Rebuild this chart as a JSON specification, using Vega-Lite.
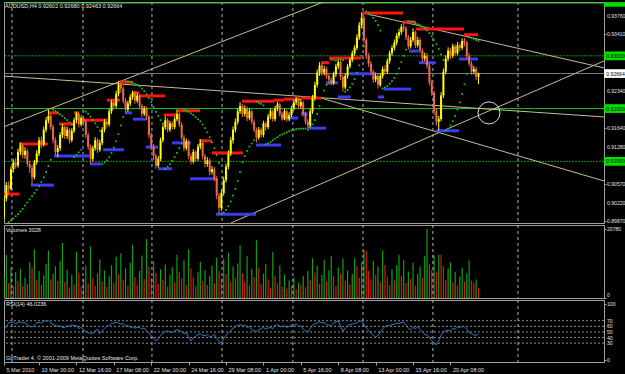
{
"$schema": "https://vega.github.io/schema/vega-lite/v6.json",
"background": "#000000",
"padding": {"left": 3, "top": 1, "right": 30, "bottom": 14},
"spacing": 2,
"bounds": "flush",
"datasets": {
"bars": [
{"t":0,"o":0.8995,"h":0.9036,"l":0.899,"c":0.903,"v":6000,"r":54},
{"t":1,"o":0.903,"h":0.9061,"l":0.9024,"c":0.9055,"v":13000,"r":60},
{"t":2,"o":0.9055,"h":0.9062,"l":0.904,"c":0.9048,"v":4500,"s":0.8985,"r":66},
{"t":3,"o":0.9048,"h":0.909,"l":0.9045,"c":0.9085,"v":9000,"s":0.8988,"r":67},
{"t":4,"o":0.9085,"h":0.9104,"l":0.9079,"c":0.9098,"v":3500,"s":0.8992,"r":68},
{"t":5,"o":0.9098,"h":0.9106,"l":0.9086,"c":0.9092,"v":7800,"s":0.8996,"r":64},
{"t":6,"o":0.9092,"h":0.9124,"l":0.9088,"c":0.9118,"v":5200,"s":0.9,"r":67},
{"t":7,"o":0.9118,"h":0.9136,"l":0.9112,"c":0.913,"v":8800,"s":0.9005,"r":68},
{"t":8,"o":0.913,"h":0.9134,"l":0.9106,"c":0.9112,"v":3600,"s":0.901,"r":66},
{"t":9,"o":0.9112,"h":0.9127,"l":0.9105,"c":0.912,"v":6100,"s":0.9016,"r":67},
{"t":10,"o":0.912,"h":0.9124,"l":0.909,"c":0.9095,"v":4200,"s":0.9022,"r":62},
{"t":11,"o":0.9095,"h":0.9101,"l":0.9078,"c":0.9088,"v":10800,"s":0.9028,"r":60},
{"t":12,"o":0.9088,"h":0.9093,"l":0.9056,"c":0.907,"v":9200,"s":0.9034,"r":59},
{"t":13,"o":0.907,"h":0.9103,"l":0.9066,"c":0.9098,"v":14600,"s":0.904,"r":62},
{"t":14,"o":0.9098,"h":0.9121,"l":0.9094,"c":0.9115,"v":5300,"s":0.9046,"r":66},
{"t":15,"o":0.9115,"h":0.9146,"l":0.911,"c":0.914,"v":8100,"s":0.9053,"r":67},
{"t":16,"o":0.914,"h":0.9147,"l":0.9125,"c":0.9132,"v":3900,"s":0.9061,"r":66},
{"t":17,"o":0.9132,"h":0.9166,"l":0.9128,"c":0.916,"v":6800,"s":0.907,"r":69},
{"t":18,"o":0.916,"h":0.9184,"l":0.9155,"c":0.9178,"v":10300,"s":0.908,"r":70},
{"t":19,"o":0.9178,"h":0.9198,"l":0.9172,"c":0.9186,"v":14300,"s":0.9091,"r":70},
{"t":20,"o":0.9186,"h":0.919,"l":0.916,"c":0.9165,"v":5600,"s":0.9103,"r":66},
{"t":21,"o":0.9165,"h":0.917,"l":0.9134,"c":0.914,"v":7300,"s":0.9198,"r":63},
{"t":22,"o":0.914,"h":0.9145,"l":0.9112,"c":0.9118,"v":9600,"s":0.9195,"r":62},
{"t":23,"o":0.9118,"h":0.9131,"l":0.9108,"c":0.9125,"v":5100,"s":0.9192,"r":60},
{"t":24,"o":0.9125,"h":0.9155,"l":0.912,"c":0.915,"v":11200,"s":0.9189,"r":61},
{"t":25,"o":0.915,"h":0.9171,"l":0.9144,"c":0.9165,"v":16600,"s":0.9186,"r":58},
{"t":26,"o":0.9165,"h":0.9168,"l":0.9142,"c":0.9148,"v":4800,"s":0.9182,"r":58},
{"t":27,"o":0.9148,"h":0.9166,"l":0.9143,"c":0.916,"v":8600,"s":0.9178,"r":61},
{"t":28,"o":0.916,"h":0.9163,"l":0.9134,"c":0.914,"v":3200,"s":0.9174,"r":60},
{"t":29,"o":0.914,"h":0.9163,"l":0.9136,"c":0.9158,"v":6900,"s":0.917,"r":63},
{"t":30,"o":0.9158,"h":0.9183,"l":0.9154,"c":0.9178,"v":4100,"s":0.9108,"r":61},
{"t":31,"o":0.9178,"h":0.9194,"l":0.9172,"c":0.919,"v":14000,"s":0.9112,"r":62},
{"t":32,"o":0.919,"h":0.9193,"l":0.9164,"c":0.917,"v":7700,"s":0.9117,"r":56},
{"t":33,"o":0.917,"h":0.9187,"l":0.9166,"c":0.9182,"v":3500,"s":0.9122,"r":58},
{"t":34,"o":0.9182,"h":0.9186,"l":0.9168,"c":0.9175,"v":5900,"s":0.9196,"r":55},
{"t":35,"o":0.9175,"h":0.9179,"l":0.9144,"c":0.915,"v":9800,"s":0.9194,"r":50},
{"t":36,"o":0.915,"h":0.9155,"l":0.9122,"c":0.9128,"v":4400,"s":0.919,"r":49},
{"t":37,"o":0.9128,"h":0.9132,"l":0.9095,"c":0.9105,"v":15500,"s":0.9185,"r":47},
{"t":38,"o":0.9105,"h":0.913,"l":0.91,"c":0.9125,"v":6200,"s":0.9179,"r":48},
{"t":39,"o":0.9125,"h":0.9146,"l":0.912,"c":0.914,"v":3800,"s":0.9172,"r":52},
{"t":40,"o":0.914,"h":0.9144,"l":0.9116,"c":0.9122,"v":7400,"s":0.9165,"r":55},
{"t":41,"o":0.9122,"h":0.9141,"l":0.9118,"c":0.9135,"v":11600,"s":0.9158,"r":47},
{"t":42,"o":0.9135,"h":0.9165,"l":0.9131,"c":0.916,"v":5000,"s":0.9095,"r":52},
{"t":43,"o":0.916,"h":0.918,"l":0.9155,"c":0.9175,"v":8300,"s":0.9098,"r":56},
{"t":44,"o":0.9175,"h":0.9181,"l":0.9164,"c":0.917,"v":3300,"s":0.9102,"r":60},
{"t":45,"o":0.917,"h":0.92,"l":0.9166,"c":0.9195,"v":6700,"s":0.9108,"r":62},
{"t":46,"o":0.9195,"h":0.9217,"l":0.919,"c":0.9212,"v":9900,"s":0.9116,"r":65},
{"t":47,"o":0.9212,"h":0.9218,"l":0.9199,"c":0.9205,"v":4600,"s":0.9126,"r":66},
{"t":48,"o":0.9205,"h":0.9234,"l":0.9201,"c":0.9228,"v":12400,"s":0.9138,"r":67},
{"t":49,"o":0.9228,"h":0.9252,"l":0.9223,"c":0.9245,"v":7100,"s":0.9152,"r":66},
{"t":50,"o":0.9245,"h":0.925,"l":0.923,"c":0.9238,"v":13500,"s":0.9168,"r":64},
{"t":51,"o":0.9238,"h":0.9242,"l":0.921,"c":0.9215,"v":5400,"s":0.9184,"r":65},
{"t":52,"o":0.9215,"h":0.922,"l":0.9192,"c":0.9198,"v":8900,"s":0.9252,"r":60},
{"t":53,"o":0.9198,"h":0.9215,"l":0.9194,"c":0.921,"v":3700,"s":0.9251,"r":62},
{"t":54,"o":0.921,"h":0.9227,"l":0.9205,"c":0.9222,"v":10600,"s":0.925,"r":58},
{"t":55,"o":0.9222,"h":0.9234,"l":0.9217,"c":0.923,"v":16000,"s":0.9249,"r":59},
{"t":56,"o":0.923,"h":0.9233,"l":0.9209,"c":0.9215,"v":6300,"s":0.9247,"r":57},
{"t":57,"o":0.9215,"h":0.923,"l":0.9211,"c":0.9225,"v":4000,"s":0.9245,"r":58},
{"t":58,"o":0.9225,"h":0.9228,"l":0.9199,"c":0.9205,"v":8200,"s":0.9242,"r":58},
{"t":59,"o":0.9205,"h":0.9209,"l":0.9184,"c":0.919,"v":12800,"s":0.9238,"r":55},
{"t":60,"o":0.919,"h":0.9205,"l":0.9186,"c":0.92,"v":5700,"s":0.9233,"r":57},
{"t":61,"o":0.92,"h":0.9204,"l":0.9178,"c":0.9185,"v":17800,"s":0.9227,"r":52},
{"t":62,"o":0.9185,"h":0.9188,"l":0.9144,"c":0.915,"v":9400,"s":0.922,"r":48},
{"t":63,"o":0.915,"h":0.9155,"l":0.9121,"c":0.9128,"v":6000,"s":0.9212,"r":43},
{"t":64,"o":0.9128,"h":0.9133,"l":0.9103,"c":0.911,"v":11000,"s":0.9203,"r":39},
{"t":65,"o":0.911,"h":0.9114,"l":0.9086,"c":0.9092,"v":7600,"s":0.9194,"r":34},
{"t":66,"o":0.9092,"h":0.911,"l":0.9088,"c":0.9105,"v":4300,"s":0.9186,"r":38},
{"t":67,"o":0.9105,"h":0.9145,"l":0.91,"c":0.914,"v":8700,"s":0.9178,"r":44},
{"t":68,"o":0.914,"h":0.917,"l":0.9136,"c":0.9165,"v":5500,"s":0.9172,"r":48},
{"t":69,"o":0.9165,"h":0.9185,"l":0.916,"c":0.9178,"v":10100,"s":0.9086,"r":51},
{"t":70,"o":0.9178,"h":0.9182,"l":0.9155,"c":0.916,"v":3400,"s":0.909,"r":52},
{"t":71,"o":0.916,"h":0.9177,"l":0.9156,"c":0.9172,"v":7000,"s":0.9095,"r":50},
{"t":72,"o":0.9172,"h":0.9176,"l":0.916,"c":0.9165,"v":9300,"s":0.9101,"r":49},
{"t":73,"o":0.9165,"h":0.9185,"l":0.9161,"c":0.918,"v":4700,"s":0.9108,"r":52},
{"t":74,"o":0.918,"h":0.9198,"l":0.9176,"c":0.919,"v":13000,"s":0.9116,"r":54},
{"t":75,"o":0.919,"h":0.9193,"l":0.9165,"c":0.917,"v":8000,"s":0.9125,"r":53},
{"t":76,"o":0.917,"h":0.9174,"l":0.914,"c":0.9145,"v":5800,"s":0.9134,"r":50},
{"t":77,"o":0.9145,"h":0.915,"l":0.9119,"c":0.9125,"v":11400,"s":0.9198,"r":47},
{"t":78,"o":0.9125,"h":0.9143,"l":0.9121,"c":0.9138,"v":4100,"s":0.9196,"r":49},
{"t":79,"o":0.9138,"h":0.9141,"l":0.9104,"c":0.911,"v":14600,"s":0.9194,"r":40},
{"t":80,"o":0.911,"h":0.9115,"l":0.9094,"c":0.91,"v":9000,"s":0.9191,"r":34},
{"t":81,"o":0.91,"h":0.9123,"l":0.9096,"c":0.9118,"v":6400,"s":0.9188,"r":40},
{"t":82,"o":0.9118,"h":0.9121,"l":0.9099,"c":0.9105,"v":3600,"s":0.9184,"r":42},
{"t":83,"o":0.9105,"h":0.9133,"l":0.9101,"c":0.9128,"v":7900,"s":0.918,"r":45},
{"t":84,"o":0.9128,"h":0.9142,"l":0.9123,"c":0.9135,"v":10900,"s":0.9176,"r":47},
{"t":85,"o":0.9135,"h":0.9138,"l":0.9104,"c":0.911,"v":5200,"s":0.917,"r":44},
{"t":86,"o":0.911,"h":0.9114,"l":0.9089,"c":0.9095,"v":8400,"s":0.9163,"r":43},
{"t":87,"o":0.9095,"h":0.9108,"l":0.909,"c":0.9102,"v":3900,"s":0.9155,"r":45},
{"t":88,"o":0.9102,"h":0.9106,"l":0.9074,"c":0.908,"v":6600,"s":0.9146,"r":41},
{"t":89,"o":0.908,"h":0.9091,"l":0.9075,"c":0.9085,"v":9700,"s":0.9136,"r":42},
{"t":90,"o":0.9085,"h":0.9089,"l":0.9062,"c":0.9068,"v":4500,"s":0.9125,"r":46},
{"t":91,"o":0.9068,"h":0.9072,"l":0.9028,"c":0.9035,"v":12100,"s":0.9112,"r":38},
{"t":92,"o":0.9035,"h":0.904,"l":0.9,"c":0.9012,"v":8100,"s":0.9097,"r":33},
{"t":93,"o":0.9012,"h":0.9046,"l":0.9006,"c":0.904,"v":5900,"s":0.9,"r":30},
{"t":94,"o":0.904,"h":0.9071,"l":0.9035,"c":0.9065,"v":11800,"s":0.9003,"r":38},
{"t":95,"o":0.9065,"h":0.9096,"l":0.906,"c":0.909,"v":7200,"s":0.9008,"r":44},
{"t":96,"o":0.909,"h":0.9121,"l":0.9085,"c":0.9115,"v":13600,"s":0.9015,"r":48},
{"t":97,"o":0.9115,"h":0.9146,"l":0.911,"c":0.914,"v":4900,"s":0.9024,"r":52},
{"t":98,"o":0.914,"h":0.9166,"l":0.9134,"c":0.916,"v":9500,"s":0.9035,"r":57},
{"t":99,"o":0.916,"h":0.9181,"l":0.9155,"c":0.9175,"v":6100,"s":0.9048,"r":59},
{"t":100,"o":0.9175,"h":0.9201,"l":0.917,"c":0.9195,"v":10400,"s":0.9063,"r":62},
{"t":101,"o":0.9195,"h":0.9212,"l":0.919,"c":0.9205,"v":15800,"s":0.908,"r":63},
{"t":102,"o":0.9205,"h":0.9209,"l":0.9184,"c":0.919,"v":7500,"s":0.9098,"r":61},
{"t":103,"o":0.919,"h":0.9206,"l":0.9185,"c":0.92,"v":5000,"s":0.911,"r":63},
{"t":104,"o":0.92,"h":0.9204,"l":0.9176,"c":0.9182,"v":12600,"s":0.912,"r":58},
{"t":105,"o":0.9182,"h":0.92,"l":0.9178,"c":0.9195,"v":3800,"s":0.9128,"r":60},
{"t":106,"o":0.9195,"h":0.9198,"l":0.917,"c":0.9175,"v":8800,"s":0.9134,"r":54},
{"t":107,"o":0.9175,"h":0.9179,"l":0.9155,"c":0.916,"v":6300,"s":0.914,"r":52},
{"t":108,"o":0.916,"h":0.9164,"l":0.9136,"c":0.9145,"v":17400,"s":0.9213,"r":51},
{"t":109,"o":0.9145,"h":0.9165,"l":0.9141,"c":0.916,"v":9100,"s":0.9211,"r":54},
{"t":110,"o":0.916,"h":0.9164,"l":0.9145,"c":0.915,"v":4200,"s":0.9209,"r":56},
{"t":111,"o":0.915,"h":0.9177,"l":0.9146,"c":0.9172,"v":7300,"s":0.9206,"r":58},
{"t":112,"o":0.9172,"h":0.9176,"l":0.9159,"c":0.9165,"v":10200,"s":0.9132,"r":55},
{"t":113,"o":0.9165,"h":0.919,"l":0.9161,"c":0.9185,"v":5600,"s":0.9134,"r":57},
{"t":114,"o":0.9185,"h":0.92,"l":0.918,"c":0.9195,"v":3100,"s":0.9137,"r":58},
{"t":115,"o":0.9195,"h":0.9198,"l":0.9175,"c":0.918,"v":13900,"s":0.914,"r":56},
{"t":116,"o":0.918,"h":0.9205,"l":0.9176,"c":0.92,"v":6800,"s":0.9143,"r":62},
{"t":117,"o":0.92,"h":0.9213,"l":0.9195,"c":0.9208,"v":4400,"s":0.9146,"r":63},
{"t":118,"o":0.9208,"h":0.9211,"l":0.9185,"c":0.919,"v":9900,"s":0.9149,"r":60},
{"t":119,"o":0.919,"h":0.9194,"l":0.9177,"c":0.9182,"v":3500,"s":0.9151,"r":59},
{"t":120,"o":0.9182,"h":0.92,"l":0.9178,"c":0.9195,"v":7100,"s":0.9153,"r":61},
{"t":121,"o":0.9195,"h":0.9198,"l":0.9175,"c":0.918,"v":2800,"s":0.9155,"r":58},
{"t":122,"o":0.918,"h":0.9193,"l":0.9176,"c":0.9188,"v":5300,"s":0.9157,"r":60},
{"t":123,"o":0.9188,"h":0.9205,"l":0.9184,"c":0.92,"v":3700,"s":0.9159,"r":62},
{"t":124,"o":0.92,"h":0.9217,"l":0.9196,"c":0.9212,"v":6200,"s":0.916,"r":63},
{"t":125,"o":0.9212,"h":0.9222,"l":0.9207,"c":0.9218,"v":2600,"s":0.9161,"r":64},
{"t":126,"o":0.9218,"h":0.9221,"l":0.9199,"c":0.9205,"v":4700,"s":0.9162,"r":60},
{"t":127,"o":0.9205,"h":0.9218,"l":0.92,"c":0.9212,"v":3900,"s":0.9162,"r":61},
{"t":128,"o":0.9212,"h":0.9215,"l":0.9185,"c":0.919,"v":6700,"s":0.9162,"r":55},
{"t":129,"o":0.919,"h":0.9194,"l":0.917,"c":0.9175,"v":3300,"s":0.9162,"r":52},
{"t":130,"o":0.9175,"h":0.918,"l":0.9163,"c":0.9168,"v":8100,"s":0.916,"r":50},
{"t":131,"o":0.9168,"h":0.92,"l":0.9165,"c":0.9195,"v":5500,"s":0.9165,"r":56},
{"t":132,"o":0.9195,"h":0.9226,"l":0.919,"c":0.922,"v":12000,"s":0.917,"r":62},
{"t":133,"o":0.922,"h":0.9251,"l":0.9215,"c":0.9245,"v":7600,"s":0.9178,"r":64},
{"t":134,"o":0.9245,"h":0.9274,"l":0.924,"c":0.9268,"v":9800,"s":0.919,"r":66},
{"t":135,"o":0.9268,"h":0.9288,"l":0.9262,"c":0.9282,"v":4300,"s":0.9205,"r":68},
{"t":136,"o":0.9282,"h":0.9286,"l":0.9262,"c":0.9268,"v":6900,"s":0.922,"r":66},
{"t":137,"o":0.9268,"h":0.9281,"l":0.9263,"c":0.9275,"v":11500,"s":0.9234,"r":67},
{"t":138,"o":0.9275,"h":0.9279,"l":0.9257,"c":0.9262,"v":5100,"s":0.9245,"r":63},
{"t":139,"o":0.9262,"h":0.9266,"l":0.925,"c":0.9255,"v":8400,"s":0.9248,"r":62},
{"t":140,"o":0.9255,"h":0.9259,"l":0.9244,"c":0.9248,"v":12600,"s":0.9293,"r":62},
{"t":141,"o":0.9248,"h":0.927,"l":0.9245,"c":0.9265,"v":6600,"s":0.9292,"r":66},
{"t":142,"o":0.9265,"h":0.9285,"l":0.926,"c":0.928,"v":3600,"s":0.9291,"r":68},
{"t":143,"o":0.928,"h":0.9292,"l":0.9275,"c":0.9288,"v":9200,"s":0.9294,"r":70},
{"t":144,"o":0.9288,"h":0.9291,"l":0.9254,"c":0.926,"v":7400,"s":0.9293,"r":60},
{"t":145,"o":0.926,"h":0.9264,"l":0.9232,"c":0.924,"v":11900,"s":0.9292,"r":51},
{"t":146,"o":0.924,"h":0.9267,"l":0.9236,"c":0.9262,"v":5200,"s":0.9232,"r":57},
{"t":147,"o":0.9262,"h":0.9285,"l":0.9257,"c":0.928,"v":8300,"s":0.9235,"r":61},
{"t":148,"o":0.928,"h":0.9297,"l":0.9276,"c":0.9292,"v":4100,"s":0.924,"r":63},
{"t":149,"o":0.9292,"h":0.931,"l":0.9288,"c":0.9305,"v":7200,"s":0.9247,"r":64},
{"t":150,"o":0.9305,"h":0.932,"l":0.93,"c":0.9315,"v":12000,"s":0.9256,"r":65},
{"t":151,"o":0.9315,"h":0.9341,"l":0.9311,"c":0.9335,"v":9600,"s":0.9268,"r":67},
{"t":152,"o":0.9335,"h":0.9364,"l":0.933,"c":0.9358,"v":6100,"s":0.9282,"r":69},
{"t":153,"o":0.9358,"h":0.9382,"l":0.9352,"c":0.9372,"v":10700,"s":0.93,"r":70},
{"t":154,"o":0.9372,"h":0.9376,"l":0.9324,"c":0.933,"v":14300,"s":0.9318,"r":63},
{"t":155,"o":0.933,"h":0.9334,"l":0.9294,"c":0.93,"v":14300,"s":0.9384,"r":57},
{"t":156,"o":0.93,"h":0.9305,"l":0.9279,"c":0.9285,"v":8200,"s":0.9381,"r":53},
{"t":157,"o":0.9285,"h":0.929,"l":0.9264,"c":0.927,"v":5600,"s":0.9377,"r":48},
{"t":158,"o":0.927,"h":0.9274,"l":0.9249,"c":0.9255,"v":11200,"s":0.9372,"r":44},
{"t":159,"o":0.9255,"h":0.9268,"l":0.925,"c":0.9262,"v":7000,"s":0.9366,"r":41},
{"t":160,"o":0.9262,"h":0.9266,"l":0.9238,"c":0.9245,"v":9400,"s":0.9358,"r":44},
{"t":161,"o":0.9245,"h":0.9267,"l":0.9241,"c":0.9262,"v":4800,"s":0.9348,"r":49},
{"t":162,"o":0.9262,"h":0.928,"l":0.9257,"c":0.9275,"v":14300,"s":0.9238,"r":55},
{"t":163,"o":0.9275,"h":0.9282,"l":0.9264,"c":0.927,"v":10000,"s":0.924,"r":60},
{"t":164,"o":0.927,"h":0.9295,"l":0.9266,"c":0.929,"v":6500,"s":0.9243,"r":61},
{"t":165,"o":0.929,"h":0.931,"l":0.9285,"c":0.9305,"v":3900,"s":0.9247,"r":62},
{"t":166,"o":0.9305,"h":0.932,"l":0.93,"c":0.9315,"v":8600,"s":0.9252,"r":63},
{"t":167,"o":0.9315,"h":0.9331,"l":0.931,"c":0.9325,"v":5300,"s":0.9258,"r":64},
{"t":168,"o":0.9325,"h":0.9343,"l":0.932,"c":0.9338,"v":9900,"s":0.9266,"r":66},
{"t":169,"o":0.9338,"h":0.9351,"l":0.9333,"c":0.9345,"v":13000,"s":0.9276,"r":65},
{"t":170,"o":0.9345,"h":0.936,"l":0.934,"c":0.9355,"v":6700,"s":0.9288,"r":67},
{"t":171,"o":0.9355,"h":0.9364,"l":0.9346,"c":0.9352,"v":11400,"s":0.93,"r":67},
{"t":172,"o":0.9352,"h":0.9356,"l":0.933,"c":0.9335,"v":4500,"s":0.9312,"r":63},
{"t":173,"o":0.9335,"h":0.9339,"l":0.9312,"c":0.9318,"v":8000,"s":0.9366,"r":56},
{"t":174,"o":0.9318,"h":0.9336,"l":0.9314,"c":0.933,"v":5800,"s":0.9365,"r":54},
{"t":175,"o":0.933,"h":0.9352,"l":0.9326,"c":0.9345,"v":10600,"s":0.9364,"r":58},
{"t":176,"o":0.9345,"h":0.9348,"l":0.9315,"c":0.932,"v":3700,"s":0.9362,"r":56},
{"t":177,"o":0.932,"h":0.9336,"l":0.9316,"c":0.933,"v":7300,"s":0.936,"r":59},
{"t":178,"o":0.933,"h":0.9334,"l":0.9305,"c":0.931,"v":9500,"s":0.9358,"r":54},
{"t":179,"o":0.931,"h":0.9314,"l":0.9289,"c":0.9295,"v":6200,"s":0.9355,"r":50},
{"t":180,"o":0.9295,"h":0.9306,"l":0.929,"c":0.93,"v":12700,"s":0.9352,"r":46},
{"t":181,"o":0.93,"h":0.9305,"l":0.9276,"c":0.9282,"v":20780,"s":0.9348,"r":44},
{"t":182,"o":0.9282,"h":0.9286,"l":0.9244,"c":0.925,"v":10200,"s":0.9343,"r":40},
{"t":183,"o":0.925,"h":0.9255,"l":0.9224,"c":0.923,"v":8400,"s":0.9337,"r":35},
{"t":184,"o":0.923,"h":0.9234,"l":0.9188,"c":0.9195,"v":12900,"s":0.933,"r":30},
{"t":185,"o":0.9195,"h":0.92,"l":0.9168,"c":0.9175,"v":7700,"s":0.9322,"r":27},
{"t":186,"o":0.9175,"h":0.9186,"l":0.9158,"c":0.918,"v":13000,"s":0.9313,"r":34},
{"t":187,"o":0.918,"h":0.9231,"l":0.9176,"c":0.9225,"v":13000,"s":0.9303,"r":44},
{"t":188,"o":0.9225,"h":0.9276,"l":0.922,"c":0.927,"v":9600,"s":0.9292,"r":51},
{"t":189,"o":0.927,"h":0.9301,"l":0.9265,"c":0.9295,"v":5400,"s":0.9158,"r":52},
{"t":190,"o":0.9295,"h":0.9316,"l":0.929,"c":0.931,"v":8900,"s":0.9162,"r":53},
{"t":191,"o":0.931,"h":0.9315,"l":0.9294,"c":0.93,"v":10800,"s":0.9168,"r":52},
{"t":192,"o":0.93,"h":0.9323,"l":0.9296,"c":0.9318,"v":4600,"s":0.9176,"r":56},
{"t":193,"o":0.9318,"h":0.9322,"l":0.93,"c":0.9305,"v":7800,"s":0.9186,"r":55},
{"t":194,"o":0.9305,"h":0.9326,"l":0.9301,"c":0.932,"v":3800,"s":0.9198,"r":59},
{"t":195,"o":0.932,"h":0.9325,"l":0.9309,"c":0.9315,"v":6500,"s":0.9212,"r":58},
{"t":196,"o":0.9315,"h":0.9333,"l":0.9311,"c":0.9328,"v":9100,"s":0.9228,"r":60},
{"t":197,"o":0.9328,"h":0.9334,"l":0.9318,"c":0.9325,"v":5000,"s":0.9246,"r":59},
{"t":198,"o":0.9325,"h":0.9329,"l":0.9295,"c":0.93,"v":7400,"s":0.9266,"r":55},
{"t":199,"o":0.93,"h":0.9305,"l":0.928,"c":0.9285,"v":11300,"s":0.9336,"r":49},
{"t":200,"o":0.9285,"h":0.929,"l":0.9264,"c":0.927,"v":5300,"s":0.9334,"r":47},
{"t":201,"o":0.927,"h":0.9281,"l":0.9265,"c":0.9275,"v":4700,"s":0.9332,"r":45},
{"t":202,"o":0.9275,"h":0.9279,"l":0.9254,"c":0.92602,"v":5600,"s":0.933,"r":44},
{"t":203,"o":0.92602,"h":0.9268,"l":0.92463,"c":0.92664,"v":3028,"s":0.9328,"r":46.02}
],
"grid": [{"t":3.4},{"t":33.8},{"t":63.3},{"t":93.3},{"t":123.6},{"t":153.6},{"t":183.5},{"t":219.9}],
"lv": [{"p":0.94,"grp":"even"},{"p":0.93,"grp":"odd"},{"p":0.92,"grp":"even"},{"p":0.91,"grp":"odd"}],
"tl": [
{"x1":0,"y1":0.91656,"x2":140,"y2":0.94078},
{"x1":0,"y1":0.92615,"x2":256.7,"y2":0.91842},
{"x1":153.6,"y1":0.93813,"x2":256.7,"y2":0.9277},
{"x1":134.8,"y1":0.92211,"x2":256.7,"y2":0.90629},
{"x1":97.1,"y1":0.89833,"x2":256.7,"y2":0.92903}
],
"res": [
{"a":0,"b":6.6,"p":0.9038},{"a":6.4,"b":18.8,"p":0.9133},{"a":18.8,"b":23.5,"p":0.9192},{"a":23.5,"b":29.5,"p":0.9171},
{"a":30,"b":32,"p":0.9192},{"a":33,"b":43.6,"p":0.9178},{"a":44,"b":49.6,"p":0.9216},{"a":49.6,"b":55.2,"p":0.925},
{"a":55.2,"b":57.8,"p":0.923},{"a":57.8,"b":68.9,"p":0.9224},{"a":68.4,"b":74,"p":0.9188},{"a":74,"b":83.9,"p":0.9196},
{"a":83.4,"b":89,"p":0.9139},{"a":89,"b":102.2,"p":0.9116},{"a":101.8,"b":115.5,"p":0.9214},{"a":115.5,"b":119.8,"p":0.9216},
{"a":119.8,"b":127,"p":0.9218},{"a":127,"b":135.6,"p":0.922},{"a":135.6,"b":139,"p":0.9287},{"a":139,"b":152.7,"p":0.9296},
{"a":153.2,"b":170.7,"p":0.9381},{"a":170.7,"b":176.3,"p":0.9364},{"a":176.3,"b":196.8,"p":0.9351},{"a":196.8,"b":202.8,"p":0.934}
],
"sup": [
{"a":11.5,"b":21.4,"p":0.9055},{"a":21.4,"b":36.4,"p":0.911},{"a":36.8,"b":41.5,"p":0.9095},{"a":42.4,"b":51.3,"p":0.9122},
{"a":51.8,"b":54.8,"p":0.9192},{"a":55.2,"b":60.7,"p":0.918},{"a":60.7,"b":65.9,"p":0.9127},{"a":65.9,"b":71.9,"p":0.9086},
{"a":71.9,"b":80,"p":0.9135},{"a":79.6,"b":90.7,"p":0.9067},{"a":90.7,"b":107.8,"p":0.9},{"a":107.8,"b":118.5,"p":0.9131},
{"a":118.5,"b":125.8,"p":0.9182},{"a":127,"b":130,"p":0.919},{"a":130,"b":137.8,"p":0.9163},{"a":137.8,"b":142.9,"p":0.9249},
{"a":142.9,"b":148.4,"p":0.9222},{"a":148,"b":159,"p":0.9266},{"a":160,"b":162.6,"p":0.9222},{"a":162.6,"b":174.1,"p":0.9237},
{"a":173.3,"b":177.5,"p":0.9309},{"a":177.5,"b":184.8,"p":0.9287},{"a":184.8,"b":194.7,"p":0.9158},{"a":194.7,"b":202.8,"p":0.9294}
],
"tags": [
{"p":0.93,"txt":"0.93000","kind":"level"},
{"p":0.92664,"txt":"0.92664","kind":"bid"},
{"p":0.92,"txt":"0.92000","kind":"level"},
{"p":0.91,"txt":"0.91000","kind":"level"}
],
"pticks": [
{"p":0.9376,"lab":"0.93760"},{"p":0.9341,"lab":"0.93410"},{"p":0.9234,"lab":"0.92340"},{"p":0.9164,"lab":"0.91640"},
{"p":0.9128,"lab":"0.91280"},{"p":0.9057,"lab":"0.90570"},{"p":0.9022,"lab":"0.90220"},{"p":0.8987,"lab":"0.89870"}
],
"rticks": [{"p":100,"lab":"100"},{"p":70,"lab":"70"},{"p":60,"lab":"60"},{"p":50,"lab":"50"},{"p":40,"lab":"40"},{"p":30,"lab":"30"},{"p":0,"lab":"0"}],
"rsilv": [{"p":30},{"p":40},{"p":50},{"p":60},{"p":70}]
},
"vconcat": [
{
"width": 600, "height": 221,
"layer": [
{"data": {"name": "bars"}, "mark": {"type": "rule", "strokeWidth": 0, "opacity": 0},
 "encoding": {
  "x": {"field": "t", "type": "quantitative", "scale": {"domain": [0,256.7], "nice": false, "zero": false}, "axis": null, "title": null},
  "y": {"field": "c", "type": "quantitative", "scale": {"domain": [0.89832,0.9402], "nice": false, "zero": false}, "title": null,
        "axis": {"orient": "right", "values": [0.9376,0.9341,0.9234,0.9164,0.9128,0.9057,0.9022,0.8987], "labels": false, "tickSize": 2}}}},
{"data": {"name": "grid"}, "mark": {"type": "rule", "color": "#b4b4b4", "strokeDash": [3,3], "strokeWidth": 1},
 "encoding": {"x": {"field": "t", "type": "quantitative", "scale": {"domain": [0,256.7], "nice": false, "zero": false}, "axis": null, "title": null}}},
{"data": {"name": "lv"}, "transform": [{"filter": "datum.grp == 'even'"}], "mark": {"type": "rule", "color": "#1cc81c", "strokeWidth": 1},
 "encoding": {"y": {"field": "p", "type": "quantitative", "scale": {"domain": [0.89832,0.9402], "nice": false, "zero": false}, "title": null}}},
{"data": {"name": "lv"}, "transform": [{"filter": "datum.grp == 'odd'"}], "mark": {"type": "rule", "color": "#148c14", "strokeWidth": 1, "strokeDash": [2,1]},
 "encoding": {"y": {"field": "p", "type": "quantitative", "scale": {"domain": [0.89832,0.9402], "nice": false, "zero": false}, "title": null}}},
{"data": {"values": [{"p": 0.92664}]}, "mark": {"type": "rule", "color": "#7c7c7c", "strokeWidth": 1},
 "encoding": {"y": {"field": "p", "type": "quantitative", "scale": {"domain": [0.89832,0.9402], "nice": false, "zero": false}, "title": null}}},
{"data": {"name": "tl"}, "mark": {"type": "rule", "color": "#c9bb94", "strokeWidth": 1, "clip": true},
 "encoding": {
  "x": {"field": "x1", "type": "quantitative", "scale": {"domain": [0,256.7], "nice": false, "zero": false}, "axis": null, "title": null},
  "x2": {"field": "x2"},
  "y": {"field": "y1", "type": "quantitative", "scale": {"domain": [0.89832,0.9402], "nice": false, "zero": false}, "title": null},
  "y2": {"field": "y2"}}},
{"data": {"values": [{"t": 207.5, "p": 0.91918}]}, "mark": {"type": "point", "shape": "circle", "size": 484, "filled": false, "stroke": "#d8d8d8", "strokeWidth": 1, "opacity": 1},
 "encoding": {
  "x": {"field": "t", "type": "quantitative", "scale": {"domain": [0,256.7], "nice": false, "zero": false}, "axis": null, "title": null},
  "y": {"field": "p", "type": "quantitative", "scale": {"domain": [0.89832,0.9402], "nice": false, "zero": false}, "title": null}}},
{"data": {"name": "res"}, "mark": {"type": "rule", "color": "#ff1414", "strokeWidth": 3, "clip": true},
 "encoding": {
  "x": {"field": "a", "type": "quantitative", "scale": {"domain": [0,256.7], "nice": false, "zero": false}, "axis": null, "title": null},
  "x2": {"field": "b"},
  "y": {"field": "p", "type": "quantitative", "scale": {"domain": [0.89832,0.9402], "nice": false, "zero": false}, "title": null}}},
{"data": {"name": "sup"}, "mark": {"type": "rule", "color": "#3c3cf0", "strokeWidth": 3, "clip": true},
 "encoding": {
  "x": {"field": "a", "type": "quantitative", "scale": {"domain": [0,256.7], "nice": false, "zero": false}, "axis": null, "title": null},
  "x2": {"field": "b"},
  "y": {"field": "p", "type": "quantitative", "scale": {"domain": [0.89832,0.9402], "nice": false, "zero": false}, "title": null}}},
{"data": {"name": "bars"}, "transform": [{"filter": "isValid(datum.s)"}], "mark": {"type": "square", "size": 3, "color": "#1cc41c", "opacity": 1, "clip": true},
 "encoding": {
  "x": {"field": "t", "type": "quantitative", "scale": {"domain": [0,256.7], "nice": false, "zero": false}, "axis": null, "title": null},
  "y": {"field": "s", "type": "quantitative", "scale": {"domain": [0.89832,0.9402], "nice": false, "zero": false}, "title": null}}},
{"data": {"name": "bars"}, "mark": {"type": "rule", "strokeWidth": 1, "clip": true},
 "encoding": {
  "x": {"field": "t", "type": "quantitative", "scale": {"domain": [0,256.7], "nice": false, "zero": false}, "axis": null, "title": null},
  "y": {"field": "l", "type": "quantitative", "scale": {"domain": [0.89832,0.9402], "nice": false, "zero": false}, "title": null},
  "y2": {"field": "h"},
  "color": {"condition": {"test": "datum.c >= datum.o", "value": "#ffff00"}, "value": "#f0684a"}}},
{"data": {"name": "bars"}, "mark": {"type": "rule", "strokeWidth": 2, "clip": true},
 "encoding": {
  "x": {"field": "t", "type": "quantitative", "scale": {"domain": [0,256.7], "nice": false, "zero": false}, "axis": null, "title": null},
  "y": {"field": "o", "type": "quantitative", "scale": {"domain": [0.89832,0.9402], "nice": false, "zero": false}, "title": null},
  "y2": {"field": "c"},
  "color": {"condition": {"test": "datum.c >= datum.o", "value": "#ffff00"}, "value": "#f0684a"}}},
{"data": {"values": [{"txt": "AUDUSD,H4  0.92602 0.92680 0.92463 0.92664"}]},
 "mark": {"type": "text", "align": "left", "baseline": "top", "dx": 1, "dy": 2, "fontSize": 5.5, "color": "#e6e6e6", "font": "Liberation Sans"},
 "encoding": {
  "x": {"datum": 0, "type": "quantitative", "scale": {"domain": [0,256.7], "nice": false, "zero": false}, "axis": null, "title": null},
  "y": {"datum": 0.9402, "type": "quantitative", "scale": {"domain": [0.89832,0.9402], "nice": false, "zero": false}, "title": null},
  "text": {"field": "txt"}}},
{"data": {"name": "pticks"}, "mark": {"type": "text", "align": "left", "baseline": "middle", "fontSize": 5.1, "color": "#e0e0e0", "font": "Liberation Sans"},
 "encoding": {
  "x": {"datum": 258.0, "type": "quantitative", "scale": {"domain": [0,256.7], "nice": false, "zero": false}, "axis": null, "title": null},
  "y": {"field": "p", "type": "quantitative", "scale": {"domain": [0.89832,0.9402], "nice": false, "zero": false}, "title": null},
  "text": {"field": "lab"}}},
{"data": {"name": "tags"}, "mark": {"type": "point", "shape": "M-1,-0.38L1,-0.38L1,0.38L-1,0.38Z", "size": 529, "filled": true, "opacity": 1, "strokeWidth": 0},
 "encoding": {
  "x": {"datum": 261.7, "type": "quantitative", "scale": {"domain": [0,256.7], "nice": false, "zero": false}, "axis": null, "title": null},
  "y": {"field": "p", "type": "quantitative", "scale": {"domain": [0.89832,0.9402], "nice": false, "zero": false}, "title": null},
  "color": {"condition": {"test": "datum.kind == 'bid'", "value": "#ffffff"}, "value": "#00e000"}}},
{"data": {"name": "tags"}, "mark": {"type": "text", "align": "left", "baseline": "middle", "fontSize": 5.1, "color": "#000000", "font": "Liberation Sans"},
 "encoding": {
  "x": {"datum": 257.7, "type": "quantitative", "scale": {"domain": [0,256.7], "nice": false, "zero": false}, "axis": null, "title": null},
  "y": {"field": "p", "type": "quantitative", "scale": {"domain": [0.89832,0.9402], "nice": false, "zero": false}, "title": null},
  "text": {"field": "txt"}}},
{"data": {"values": [{"lvl": 0.94}]}, "mark": {"type": "point", "shape": "M-1,-0.15L1,-0.15L1,0.25L-1,0.25Z", "size": 529, "filled": true, "opacity": 1, "strokeWidth": 0, "color": "#00e000"},
 "encoding": {
  "x": {"datum": 261.7, "type": "quantitative", "scale": {"domain": [0,256.7], "nice": false, "zero": false}, "axis": null, "title": null},
  "y": {"datum": 0.93985, "type": "quantitative", "scale": {"domain": [0.89832,0.9402], "nice": false, "zero": false}, "title": null}}}
]
},
{
"width": 600, "height": 73,
"layer": [
{"data": {"name": "bars"}, "transform": [{"window": [{"op": "lag", "field": "v", "as": "pv"}], "sort": [{"field": "t"}]}],
 "mark": {"type": "rule", "strokeWidth": 1.2, "clip": true},
 "encoding": {
  "x": {"field": "t", "type": "quantitative", "scale": {"domain": [0,256.7], "nice": false, "zero": false}, "axis": null, "title": null},
  "y": {"field": "v", "type": "quantitative", "scale": {"domain": [0,22000], "nice": false, "zero": false}, "title": null,
        "axis": {"orient": "right", "values": [0,20780], "labels": false, "tickSize": 2}},
  "y2": {"datum": 0},
  "color": {"condition": {"test": "datum.v > datum.pv", "value": "#14a014"}, "value": "#dc1717"}}},
{"data": {"name": "grid"}, "mark": {"type": "rule", "color": "#b4b4b4", "strokeDash": [3,3], "strokeWidth": 1},
 "encoding": {"x": {"field": "t", "type": "quantitative", "scale": {"domain": [0,256.7], "nice": false, "zero": false}, "axis": null, "title": null}}},
{"data": {"values": [{"lab": "20780"}]}, "mark": {"type": "text", "align": "left", "baseline": "middle", "fontSize": 5.1, "color": "#e0e0e0", "font": "Liberation Sans"},
 "encoding": {
  "x": {"datum": 258.0, "type": "quantitative", "scale": {"domain": [0,256.7], "nice": false, "zero": false}, "axis": null, "title": null},
  "y": {"datum": 20780, "type": "quantitative", "scale": {"domain": [0,22000], "nice": false, "zero": false}, "title": null},
  "text": {"field": "lab"}}},
{"data": {"values": [{"lab": "0"}]}, "mark": {"type": "text", "align": "left", "baseline": "bottom", "fontSize": 5.1, "color": "#e0e0e0", "font": "Liberation Sans"},
 "encoding": {
  "x": {"datum": 258.0, "type": "quantitative", "scale": {"domain": [0,256.7], "nice": false, "zero": false}, "axis": null, "title": null},
  "y": {"datum": 0, "type": "quantitative", "scale": {"domain": [0,22000], "nice": false, "zero": false}, "title": null},
  "text": {"field": "lab"}}},
{"data": {"values": [{"txt": "Volumes 3028"}]},
 "mark": {"type": "text", "align": "left", "baseline": "top", "dx": 2, "dy": 3, "fontSize": 5.5, "color": "#e6e6e6", "font": "Liberation Sans"},
 "encoding": {
  "x": {"datum": 0, "type": "quantitative", "scale": {"domain": [0,256.7], "nice": false, "zero": false}, "axis": null, "title": null},
  "y": {"datum": 22000, "type": "quantitative", "scale": {"domain": [0,22000], "nice": false, "zero": false}, "title": null},
  "text": {"field": "txt"}}}
]
},
{
"width": 600, "height": 62,
"layer": [
{"data": {"name": "bars"}, "mark": {"type": "rule", "strokeWidth": 0, "opacity": 0},
 "encoding": {
  "x": {"field": "t", "type": "quantitative", "scale": {"domain": [0,256.7], "nice": false, "zero": false}, "title": null,
        "axis": {"values": [0,15,31,47,63,79,95,111,127,143,159,175,191],
                 "labelExpr": "['5 Mar 2010','10 Mar 00:00','12 Mar 16:00','17 Mar 08:00','22 Mar 00:00','24 Mar 16:00','29 Mar 08:00','1 Apr 00:00','5 Apr 16:00','8 Apr 08:00','13 Apr 00:00','15 Apr 16:00','20 Apr 08:00'][indexof([0,15,31,47,63,79,95,111,127,143,159,175,191], datum.value)]",
                 "labelAlign": "left", "labelOffset": 2, "labelPadding": 2, "tickSize": 3, "labelOverlap": false}},
  "y": {"field": "r", "type": "quantitative", "scale": {"domain": [-3.6,107], "nice": false, "zero": false}, "title": null,
        "axis": {"orient": "right", "values": [0,30,40,50,60,70,100], "labels": false, "tickSize": 2}}}},
{"data": {"name": "grid"}, "mark": {"type": "rule", "color": "#b4b4b4", "strokeDash": [3,3], "strokeWidth": 1},
 "encoding": {"x": {"field": "t", "type": "quantitative", "scale": {"domain": [0,256.7], "nice": false, "zero": false}, "title": null}}},
{"data": {"name": "rsilv"}, "mark": {"type": "rule", "color": "#8c8c8c", "strokeDash": [2,2], "strokeWidth": 1},
 "encoding": {"y": {"field": "p", "type": "quantitative", "scale": {"domain": [-3.6,107], "nice": false, "zero": false}, "title": null}}},
{"data": {"name": "bars"}, "mark": {"type": "line", "color": "#2c7cc6", "strokeWidth": 1, "clip": true},
 "encoding": {
  "x": {"field": "t", "type": "quantitative", "scale": {"domain": [0,256.7], "nice": false, "zero": false}, "title": null},
  "y": {"field": "r", "type": "quantitative", "scale": {"domain": [-3.6,107], "nice": false, "zero": false}, "title": null}}},
{"data": {"name": "rticks"}, "mark": {"type": "text", "align": "left", "baseline": "middle", "fontSize": 5.1, "color": "#e0e0e0", "font": "Liberation Sans"},
 "encoding": {
  "x": {"datum": 258.0, "type": "quantitative", "scale": {"domain": [0,256.7], "nice": false, "zero": false}, "title": null},
  "y": {"field": "p", "type": "quantitative", "scale": {"domain": [-3.6,107], "nice": false, "zero": false}, "title": null},
  "text": {"field": "lab"}}},
{"data": {"values": [{"txt": "RSI(14) 46.0236"}]},
 "mark": {"type": "text", "align": "left", "baseline": "top", "dx": 2, "dy": 2, "fontSize": 5.5, "color": "#e6e6e6", "font": "Liberation Sans"},
 "encoding": {
  "x": {"datum": 0, "type": "quantitative", "scale": {"domain": [0,256.7], "nice": false, "zero": false}, "title": null},
  "y": {"datum": 107, "type": "quantitative", "scale": {"domain": [-3.6,107], "nice": false, "zero": false}, "title": null},
  "text": {"field": "txt"}}},
{"data": {"values": [{"txt": "GoTrader 4, © 2001-2009 MetaQuotes Software Corp."}]},
 "mark": {"type": "text", "align": "left", "baseline": "bottom", "dx": 2, "dy": -1, "fontSize": 5.5, "color": "#e6e6e6", "font": "Liberation Sans"},
 "encoding": {
  "x": {"datum": 0, "type": "quantitative", "scale": {"domain": [0,256.7], "nice": false, "zero": false}, "title": null},
  "y": {"datum": -3.6, "type": "quantitative", "scale": {"domain": [-3.6,107], "nice": false, "zero": false}, "title": null},
  "text": {"field": "txt"}}}
]
}
],
"config": {
 "background": "#000000",
 "view": {"stroke": "#a0a0a0", "strokeWidth": 1},
 "axis": {"domainColor": "#a0a0a0", "tickColor": "#a0a0a0", "labelColor": "#e0e0e0", "labelFont": "Liberation Sans", "labelFontSize": 5.5, "tickSize": 3, "labelPadding": 1, "grid": false, "labelOverlap": false, "labelFlush": false},
 "text": {"font": "Liberation Sans", "fontSize": 5.5, "color": "#e0e0e0"}
}
}
